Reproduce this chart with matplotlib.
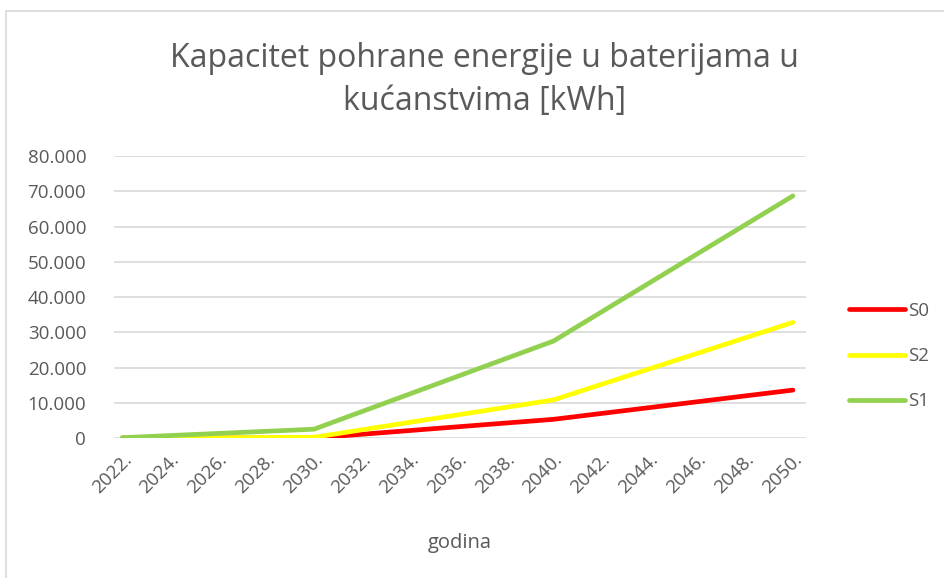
import matplotlib.pyplot as plt
from matplotlib.patches import Rectangle
import numpy as np

# data (kWh)
years = [2022, 2030, 2040, 2050]
s0 = [0, 0, 5300, 13600]
s2 = [0, 200, 10800, 32800]
s1 = [100, 2500, 27500, 68700]
tick_years = list(range(2022, 2051, 2))
tick_labels = [f"{y}." for y in tick_years]

grey = '#595959'
plt.rcParams['font.family'] = ['Open Sans', 'DejaVu Sans']

fig = plt.figure(figsize=(9.45, 5.78), dpi=100)
ax = fig.add_axes([0.1206, 0.2422, 0.853 - 0.1206, 0.730 - 0.2422])

ax.plot(years, s0, color='#FF0000', lw=3.4, label='S0', solid_capstyle='round')
ax.plot(years, s2, color='#FFFF00', lw=3.4, label='S2', solid_capstyle='round')
ax.plot(years, s1, color='#92D050', lw=3.4, label='S1', solid_capstyle='round')

ax.set_xlim(2021.65, 2050.55)
ax.set_ylim(0, 80000)
ax.set_yticks(np.arange(0, 80001, 10000))
ax.set_yticklabels(['0'] + [f"{v // 1000}.000" for v in range(10000, 80001, 10000)])
ax.set_xticks(tick_years)
ax.set_xticklabels(tick_labels, rotation=45, ha='right', va='top', rotation_mode='anchor')
ax.tick_params(axis='both', length=0, labelsize=13.5, colors=grey)
ax.tick_params(axis='y', pad=20)
ax.tick_params(axis='x', pad=9)
ax.grid(axis='y', color='#D9D9D9', lw=1.2)
ax.set_axisbelow(True)
for s in ax.spines.values():
    s.set_visible(False)

ax.set_xlabel('godina', fontsize=14.5, color=grey, labelpad=26)
fig.text(0.513, 0.862, 'Kapacitet pohrane energije u baterijama u\nkućanstvima [kWh]',
         ha='center', va='center', fontsize=23, color=grey, linespacing=1.4)

ax.legend(loc='center left', bbox_to_anchor=(1.0, 0.29), frameon=False,
          fontsize=13.5, labelcolor=grey, handlelength=2.95, labelspacing=1.45,
          handletextpad=0.2, borderaxespad=1.9)

fig.patches.append(Rectangle((6 / 945, -0.1), 1.0, 1 - 11 / 578 + 0.1,
                             transform=fig.transFigure, fill=False,
                             edgecolor='#D9D9D9', lw=1.2))

fig.savefig('out.png', dpi=100)
